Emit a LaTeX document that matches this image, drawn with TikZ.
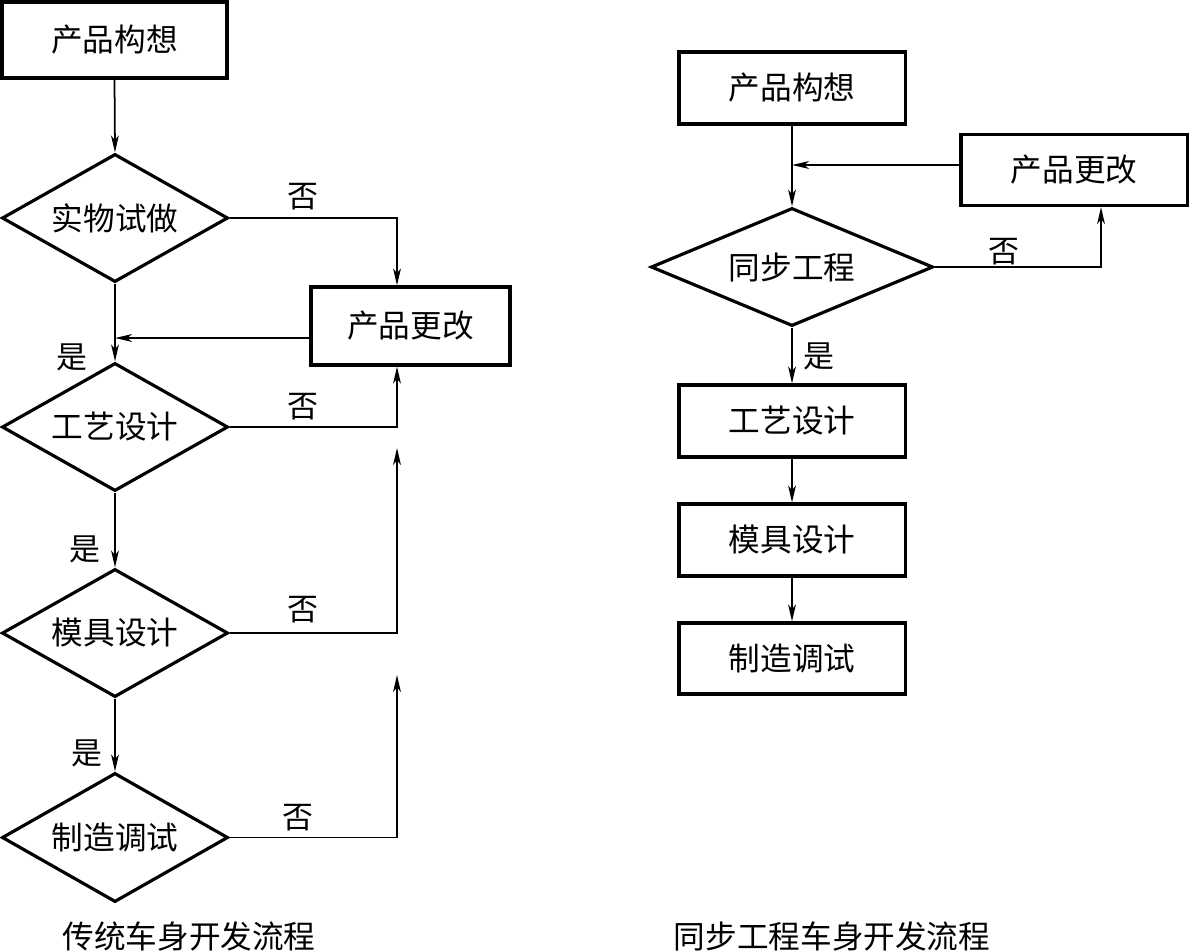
\documentclass[tikz,border=0pt]{standalone}
\usepackage{fontspec}
\newfontfamily\cjk{Noto Sans CJK SC}
\usetikzlibrary{arrows.meta,shapes.geometric,calc}
\begin{document}
\begin{tikzpicture}[x=0.01cm,y=-0.01cm,
  txt/.style={font=\cjk\fontsize{9}{10}\selectfont},
  lbl/.style={font=\cjk\fontsize{8.8}{9}\selectfont,inner sep=0pt},
  stepbox/.style={draw,line width=0.9pt,minimum width=2.25cm,inner sep=0pt,txt},
  decide/.style={draw,line width=0.9pt,diamond,inner sep=0pt,txt},
  conn/.style={line width=0.5pt},
  arr/.style={conn,-{Stealth[length=4.8pt,width=2.2pt,inset=1.3pt]}}]
\useasboundingbox (0,0) rectangle (1189,951);
% ---------------- left: traditional ----------------
\node[stepbox,minimum height=0.76cm] (L1) at (114.5,40) {产品构想};
\node[decide,aspect=1.76,minimum width=2.26cm,minimum height=1.28cm] (Ld1) at (115,218) {实物试做};
\node[stepbox,minimum width=1.99cm,minimum height=0.78cm] (Lchg) at (410.5,326) {产品更改};
\node[decide,aspect=1.76,minimum width=2.26cm,minimum height=1.28cm] (Ld2) at (115,427) {工艺设计};
\node[decide,aspect=1.76,minimum width=2.26cm,minimum height=1.28cm] (Ld3) at (115,633) {模具设计};
\node[decide,aspect=1.76,minimum width=2.26cm,minimum height=1.29cm] (Ld4) at (115,837.5) {制造调试};
\node[txt,inner sep=0pt] (Lcap) at (189,936) {传统车身开发流程};
\coordinate (xr) at (397,0);
\coordinate (m1) at (115,338);
\coordinate (t3) at (397,448);
\coordinate (t4) at (397,675);
\draw[arr] (L1.south) -- (Ld1.north);
\draw[arr] (Ld1.east) -| (xr |- Lchg.north);
\draw[arr] (Ld1.south) -- (Ld2.north);
\draw[arr] (Lchg.west |- m1) -- (m1);
\draw[arr] (Ld2.east) -| (xr |- Lchg.south);
\draw[arr] (Ld2.south) -- (Ld3.north);
\draw[arr] (Ld3.east) -| (t3);
\draw[arr] (Ld3.south) -- (Ld4.north);
\draw[arr] (Ld4.east) -| (t4);
\node[lbl] (n1) at (303,197) {否};
\node[lbl] (n2) at (303,407) {否};
\node[lbl] (n3) at (303,610) {否};
\node[lbl] (n4) at (298,818) {否};
\node[lbl] (y1) at (72,357) {是};
\node[lbl] (y2) at (85,549) {是};
\node[lbl] (y3) at (87,753) {是};
% ---------------- right: concurrent ----------------
\node[stepbox,minimum width=2.26cm,minimum height=0.72cm] (R1) at (792,88) {产品构想};
\node[stepbox,minimum width=2.26cm,minimum height=0.71cm] (Rchg) at (1074,170) {产品更改};
\node[decide,aspect=2.39,minimum width=2.82cm,minimum height=1.18cm] (Rd) at (792,267) {同步工程};
\node[stepbox,minimum width=2.26cm,minimum height=0.72cm] (R2) at (792,421) {工艺设计};
\node[stepbox,minimum width=2.26cm,minimum height=0.72cm] (R3) at (792,540) {模具设计};
\node[stepbox,minimum width=2.26cm,minimum height=0.71cm] (R4) at (792,658.5) {制造调试};
\node[txt,inner sep=0pt] (Rcap) at (832,936) {同步工程车身开发流程};
\coordinate (m2) at (792,165);
\coordinate (xr2) at (1101,0);
\draw[arr] (R1.south) -- (Rd.north);
\draw[arr] (Rchg.west |- m2) -- (m2);
\draw[arr] (Rd.east) -| (xr2 |- Rchg.south);
\draw[arr] (Rd.south) -- (R2.north);
\draw[arr] (R2.south) -- (R3.north);
\draw[arr] (R3.south) -- (R4.north);
\node[lbl] (n5) at (1004,252) {否};
\node[lbl] (y4) at (819,356) {是};
\end{tikzpicture}
\end{document}
